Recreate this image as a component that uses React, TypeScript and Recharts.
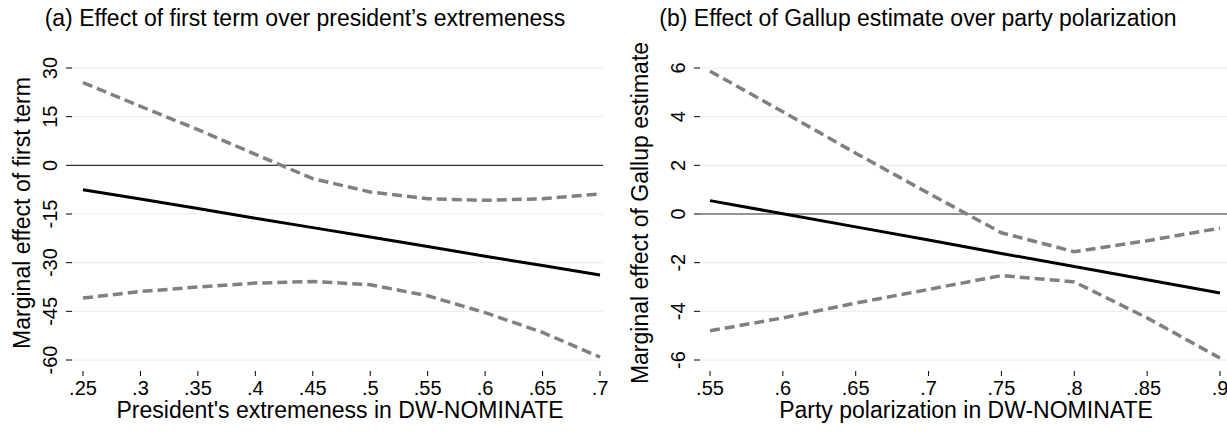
import React from "react";
import {
  ComposedChart,
  Line,
  XAxis,
  YAxis,
  CartesianGrid,
  ReferenceLine,
} from "recharts";

// panel (a): first term vs president's extremeness
const xA = [0.25, 0.3, 0.35, 0.4, 0.45, 0.5, 0.55, 0.6, 0.65, 0.7];
const estA = [-7.5, -10.4, -13.3, -16.3, -19.2, -22.1, -25.0, -28.0, -30.9, -33.8];
const upA = [25.5, 18.2, 11.0, 3.4, -4.1, -8.2, -10.3, -10.8, -10.3, -8.8];
const loA = [-40.9, -38.9, -37.5, -36.3, -35.8, -36.8, -40.2, -45.4, -51.5, -59.1];
const yTicksA = [-60, -45, -30, -15, 0, 15, 30];

// panel (b): Gallup estimate vs party polarization
const xB = [0.55, 0.6, 0.65, 0.7, 0.75, 0.8, 0.85, 0.9];
const estB = [0.55, 0.01, -0.53, -1.07, -1.62, -2.16, -2.7, -3.25];
const upB = [5.87, 4.2, 2.5, 0.85, -0.77, -1.55, -1.1, -0.58];
const loB = [-4.8, -4.27, -3.66, -3.1, -2.53, -2.79, -4.27, -5.92];
const yTicksB = [-6, -4, -2, 0, 2, 4, 6];

const FONT = '"Liberation Sans", Arial, Helvetica, sans-serif';
const GRID = "#e6eef0";
const CI = "#808080";

const rows = (xs: number[], est: number[], up: number[], lo: number[]) =>
  xs.map((x, i) => ({ x, est: est[i], up: up[i], lo: lo[i] }));

const fmtX = (v: number) => String(v).replace(/^0\./, ".");

const XTick = (props: any) => {
  const { x, y, payload } = props;
  return (
    <g>
      <line x1={x} x2={x} y1={y + 11} y2={y + 16} stroke="#000" strokeWidth={1} />
      <text
        x={x}
        y={y + 28}
        textAnchor="middle"
        dominantBaseline="central"
        fontSize={20}
        fontFamily={FONT}
        fill="#000"
      >
        {fmtX(payload.value)}
      </text>
    </g>
  );
};

const YTick = (props: any) => {
  const { x, y, payload } = props;
  const lx = x - 22;
  return (
    <g>
      <line x1={x - 6} x2={x} y1={y} y2={y} stroke="#000" strokeWidth={1} />
      <text
        x={lx}
        y={y}
        transform={`rotate(-90 ${lx} ${y})`}
        textAnchor="middle"
        dominantBaseline="central"
        fontSize={20}
        fontFamily={FONT}
        fill="#000"
      >
        {payload.value}
      </text>
    </g>
  );
};

function Panel(props: {
  data: any[];
  xTicks: number[];
  yTicks: number[];
  width: number;
  left: number;
  right: number;
  pad: { left: number; right: number };
}) {
  const { data, xTicks, yTicks, width, left, right, pad } = props;
  return (
    <ComposedChart
      width={width}
      height={432}
      data={data}
      margin={{ top: 68, right, bottom: 32, left: left - 40 }}
    >
      <CartesianGrid vertical={false} stroke={GRID} strokeWidth={1} />
      <XAxis
        dataKey="x"
        type="number"
        domain={[xTicks[0], xTicks[xTicks.length - 1]]}
        ticks={xTicks}
        padding={pad}
        axisLine={false}
        tickLine={false}
        tickSize={0}
        tickMargin={0}
        height={40}
        tick={<XTick />}
        interval={0}
      />
      <YAxis
        type="number"
        domain={[yTicks[0], yTicks[yTicks.length - 1]]}
        ticks={yTicks}
        axisLine={false}
        tickLine={false}
        tickSize={0}
        tickMargin={0}
        width={40}
        tick={<YTick />}
        interval={0}
      />
      <ReferenceLine y={0} stroke="#333" strokeWidth={1.2} />
      <Line
        dataKey="up"
        stroke={CI}
        strokeWidth={3.5}
        strokeDasharray="10 5"
        dot={false}
        isAnimationActive={false}
        type="linear"
      />
      <Line
        dataKey="lo"
        stroke={CI}
        strokeWidth={3.5}
        strokeDasharray="10 5"
        dot={false}
        isAnimationActive={false}
        type="linear"
      />
      <Line
        dataKey="est"
        stroke="#000"
        strokeWidth={3}
        dot={false}
        isAnimationActive={false}
        type="linear"
      />
    </ComposedChart>
  );
}

const textStyle: React.CSSProperties = {
  position: "absolute",
  fontFamily: FONT,
  fontSize: 23,
  lineHeight: "24px",
  whiteSpace: "nowrap",
  color: "#000",
};

const centered = (cx: number, cy: number, rotate = 0): React.CSSProperties => ({
  ...textStyle,
  left: cx,
  top: cy,
  transform: `translate(-50%, -50%)${rotate ? ` rotate(${rotate}deg)` : ""}`,
});

export default function App() {
  return (
    <div
      style={{
        position: "fixed",
        left: 0,
        top: 0,
        width: 1227,
        height: 432,
        background: "#fff",
        overflow: "hidden",
      }}
    >
      <div style={{ position: "absolute", left: 0, top: 0 }}>
        <Panel
          data={rows(xA, estA, upA, loA)}
          xTicks={xA}
          yTicks={yTicksA}
          width={615}
          left={72}
          right={12}
          pad={{ left: 11, right: 3 }}
        />
      </div>
      <div style={{ position: "absolute", left: 615, top: 0 }}>
        <Panel
          data={rows(xB, estB, upB, loB)}
          xTicks={xB}
          yTicks={yTicksB}
          width={620}
          left={85}
          right={0}
          pad={{ left: 10, right: 15 }}
        />
      </div>

      <div style={centered(305, 18)}>(a) Effect of first term over president’s extremeness</div>
      <div style={centered(918, 18)}>(b) Effect of Gallup estimate over party polarization</div>

      <div style={centered(340, 410)}>President's extremeness in DW-NOMINATE</div>
      <div style={centered(966, 410)}>Party polarization in DW-NOMINATE</div>

      <div style={centered(22, 213, -90)}>Marginal effect of first term</div>
      <div style={centered(640, 213, -90)}>Marginal effect of Gallup estimate</div>
    </div>
  );
}
